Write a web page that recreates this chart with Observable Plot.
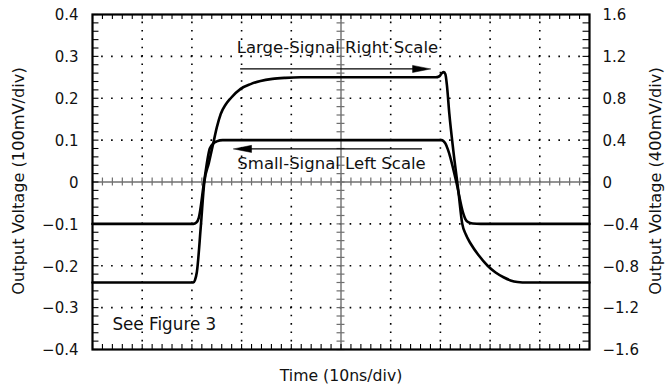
<!DOCTYPE html>
<html>
<head>
<meta charset="utf-8">
<script src="https://cdn.jsdelivr.net/npm/d3@7"></script>
<script src="https://cdn.jsdelivr.net/npm/@observablehq/plot@0.6"></script>
<style>
  body { margin: 0; background: #fff; }
</style>
</head>
<body>
<div id="chart"></div>
<script>
// Time in ns (10 ns/div), small signal in V (left scale)
const smallT = [0, 20.3, 20.9, 21.4, 22.45, 23.6, 24.3, 25.0, 26.2, 70.2, 70.6, 71.0, 71.5, 73.2, 74.6, 75.0, 75.6, 76.5, 78.1, 100];
const smallV = [-0.1, -0.1, -0.097, -0.085, 0, 0.08, 0.092, 0.097, 0.1, 0.1, 0.098, 0.092, 0.078, 0, -0.075, -0.088, -0.096, -0.099, -0.1, -0.1];

// Large signal in V (right scale)
const largeT = [0, 20.3, 20.6, 21.0, 21.8, 22.5, 23.4, 24.3, 25.0, 25.8, 26.8, 27.8, 29.8, 31.8, 33.8, 36.2, 38.8, 41.9, 69.0, 69.8, 70.3, 70.7, 71.0, 71.3, 71.8, 72.6, 73.6, 74.4, 75.1, 76.1, 77.7, 79.5, 81.1, 82.7, 84.1, 85.5, 87.5, 100];
const largeV = [-0.96, -0.96, -0.94, -0.86, -0.42, 0, 0.18, 0.37, 0.52, 0.65, 0.74, 0.8, 0.89, 0.935, 0.965, 0.985, 0.995, 1.0, 1.0, 1.01, 1.04, 1.05, 1.03, 0.93, 0.65, 0.3, -0.08, -0.4, -0.5, -0.59, -0.7, -0.8, -0.865, -0.91, -0.94, -0.955, -0.96, -0.96];

const leftTicks = [0.4, 0.3, 0.2, 0.1, 0, -0.1, -0.2, -0.3, -0.4];
const rightTicks = [1.6, 1.2, 0.8, 0.4, 0, -0.4, -0.8, -1.2, -1.6];
const rightToLeft = 4; // 400mV/div vs 100mV/div

const gridT = [10, 20, 30, 40, 60, 70, 80, 90];
const gridV = [-0.3, -0.2, -0.1, 0.1, 0.2, 0.3];
const minorT = d3.range(0, 101, 2);
const minorV = d3.range(-40, 41, 2).map(d => d / 100);

const labels = {
  large: "Large-Signal Right Scale",
  small: "Small-Signal Left Scale",
  note: "See Figure 3",
  x: "Time (10ns/div)",
  yLeft: "Output Voltage (100mV/div)",
  yRight: "Output Voltage (400mV/div)"
};
// arrows: [from t, to t (tip), level V]
const largeArrow = [29.8, 68.0, 0.27];
const smallArrow = [66.4, 28.4, 0.079];

const small = smallT.map((t, i) => ({t, v: smallV[i]}));
const large = largeT.map((t, i) => ({t, v: largeV[i] / rightToLeft}));

const fmt = d => d === 0 ? "0" : (d < 0 ? "\u2212" : "") + Math.abs(d).toFixed(1);

function head([from, to, v]) {
  const dir = Math.sign(to - from);
  const L = 3.6, H = 0.0085;
  return [{t: to, v}, {t: to - dir * L, v: v + H}, {t: to - dir * L, v: v - H}, {t: to, v}];
}

const W = 665, Hh = 390;
const plot = Plot.plot({
  width: W,
  height: Hh,
  marginLeft: 92,
  marginRight: 76,
  marginTop: 14,
  marginBottom: 41,
  x: {domain: [0, 100], axis: null},
  y: {domain: [-0.4, 0.4], axis: null},
  style: {fontFamily: "DejaVu Sans", background: "white", color: "black"},
  marks: [
    // dotted grid
    Plot.ruleX(gridT, {stroke: "black", strokeWidth: 1.6, strokeDasharray: "1.6 6.775", strokeDashoffset: 0.8}),
    Plot.ruleY(gridV, {stroke: "black", strokeWidth: 1.6, strokeDasharray: "1.6 8.34", strokeDashoffset: 0.8}),
    // center crosshair
    Plot.ruleX([50], {stroke: "#6f6f6f", strokeWidth: 1.4}),
    Plot.ruleY([0], {stroke: "#6f6f6f", strokeWidth: 1.4}),
    Plot.ruleX(minorT, {y1: -0.0095, y2: 0.0095, stroke: "#6f6f6f", strokeWidth: 1.2}),
    Plot.ruleY(minorV, {x1: 49.2, x2: 50.8, stroke: "#6f6f6f", strokeWidth: 1.2}),
    // frame minor ticks
    Plot.ruleY(minorV, {x1: 0, x2: 1.3, stroke: "black", strokeWidth: 1.1}),
    Plot.ruleY(minorV, {x1: 98.7, x2: 100, stroke: "black", strokeWidth: 1.1}),
    Plot.ruleX(minorT, {y1: -0.4, y2: -0.388, stroke: "black", strokeWidth: 1.1}),
    Plot.ruleX(minorT, {y1: 0.388, y2: 0.4, stroke: "black", strokeWidth: 1.1}),
    Plot.frame({stroke: "black", strokeWidth: 2.2}),
    // curves
    Plot.line(small, {x: "t", y: "v", stroke: "black", strokeWidth: 2.6, curve: "monotone-x"}),
    Plot.line(large, {x: "t", y: "v", stroke: "black", strokeWidth: 2.6, curve: "monotone-x"}),
    // arrows
    Plot.ruleY([largeArrow], {x1: d => d[0], x2: d => d[1] - 3, y: d => d[2], stroke: "black", strokeWidth: 1.2}),
    Plot.line(head(largeArrow), {x: "t", y: "v", fill: "black", stroke: "black", strokeWidth: 0.5}),
    Plot.ruleY([smallArrow], {x1: d => d[0], x2: d => d[1] + 3, y: d => d[2], stroke: "black", strokeWidth: 1.2}),
    Plot.line(head(smallArrow), {x: "t", y: "v", fill: "black", stroke: "black", strokeWidth: 0.5}),
    // annotations
    Plot.text([labels.large], {x: 49.3, y: 0.32, text: d => d, fontSize: 16.5, fill: "#111", textAnchor: "middle"}),
    Plot.text([labels.small], {x: 48.1, y: 0.044, text: d => d, fontSize: 16.5, fill: "#111", textAnchor: "middle"}),
    Plot.text([labels.note], {x: 4.0, y: -0.340, text: d => d, fontSize: 16.8, fill: "#111", textAnchor: "start"}),
    // axes tick labels
    Plot.text(leftTicks, {x: 0, y: d => d, text: fmt, dx: -14, dy: 1, textAnchor: "end", fontSize: 15, fill: "#111"}),
    Plot.text(rightTicks, {x: 100, y: d => d / rightToLeft, text: fmt, dx: 13, dy: 1, textAnchor: "start", fontSize: 15, fill: "#111"}),
    // axis titles
    Plot.text([labels.x], {x: 50, y: -0.4, text: d => d, dy: 26.5, fontSize: 15.7, fill: "#111"}),
    Plot.text([labels.yLeft], {x: 0, y: 0, text: d => d, dx: -74, dy: -1, rotate: -90, fontSize: 16.2, fill: "#111"}),
    Plot.text([labels.yRight], {x: 100, y: 0, text: d => d, dx: 66, dy: -1, rotate: -90, fontSize: 16.2, fill: "#111"})
  ]
});
document.getElementById("chart").appendChild(plot);
</script>
</body>
</html>
